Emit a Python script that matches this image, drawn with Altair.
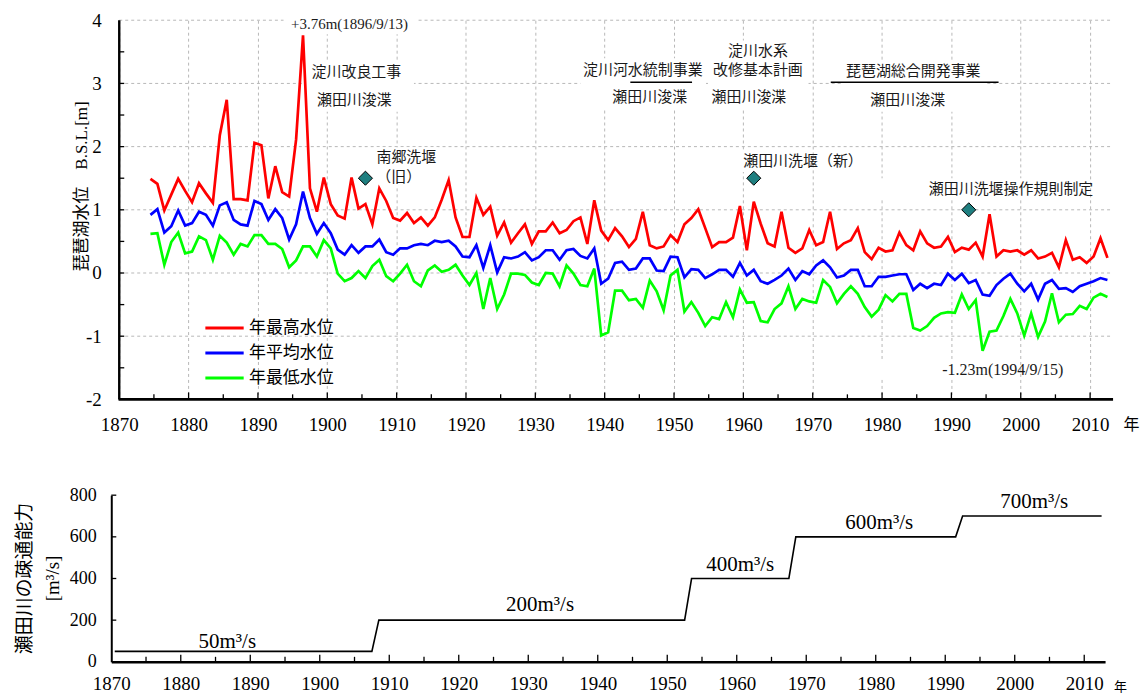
import altair as alt
import pandas as pd

# ---------------- data ----------------
years = list(range(1874, 2013))

max_level = [
    1.49, 1.41, 0.99, 1.24, 1.49, 1.30,
    1.12, 1.42, 1.26, 1.11, 2.18, 2.74, 1.17, 1.17, 1.15, 2.06,
    2.02, 1.18, 1.69, 1.28, 1.21, 2.11, 3.76, 1.34, 0.97, 1.51,
    1.09, 0.91, 0.86, 1.51, 1.02, 1.09, 0.77, 1.34, 1.14, 0.87,
    0.83, 0.95, 0.79, 0.88, 0.75, 0.88, 1.16, 1.47, 0.88, 0.57,
    0.57, 1.19, 0.92, 1.05, 0.59, 0.80, 0.48, 0.63, 0.77, 0.46,
    0.66, 0.66, 0.80, 0.63, 0.68, 0.82, 0.88, 0.46, 1.15, 0.67,
    0.52, 0.71, 0.58, 0.41, 0.54, 0.97, 0.44, 0.39, 0.42, 0.60,
    0.49, 0.77, 0.87, 1.01, 0.71, 0.41, 0.49, 0.49, 0.56, 1.06,
    0.36, 1.13, 0.78, 0.47, 0.42, 0.97, 0.40, 0.32, 0.39, 0.68,
    0.44, 0.49, 0.97, 0.38, 0.47, 0.52, 0.71, 0.33, 0.22, 0.40,
    0.34, 0.36, 0.64, 0.44, 0.36, 0.66, 0.47, 0.40, 0.42, 0.57,
    0.33, 0.40, 0.37, 0.48, 0.26, 0.93, 0.26, 0.36, 0.34, 0.36,
    0.29, 0.36, 0.23, 0.26, 0.32, 0.09, 0.52, 0.21, 0.25, 0.16,
    0.26, 0.55, 0.24,
]

mean_level = [
    0.92, 1.01, 0.64, 0.74, 0.99, 0.75,
    0.79, 0.97, 0.92, 0.75, 1.07, 1.12, 0.84, 0.77, 0.75, 1.14,
    1.09, 0.84, 1.01, 0.87, 0.53, 0.77, 1.29, 0.87, 0.62, 0.79,
    0.63, 0.37, 0.29, 0.44, 0.32, 0.42, 0.42, 0.53, 0.33, 0.29,
    0.39, 0.39, 0.44, 0.46, 0.44, 0.51, 0.49, 0.51, 0.42, 0.26,
    0.25, 0.44, 0.08, 0.44, 0.01, 0.25, 0.23, 0.26, 0.33, 0.20,
    0.25, 0.36, 0.36, 0.21, 0.36, 0.38, 0.27, 0.23, 0.39, -0.17,
    -0.09, 0.16, 0.18, 0.05, 0.07, 0.23, 0.23, 0.04, 0.03, 0.26,
    0.25, -0.07, 0.06, 0.05, -0.08, -0.02, 0.05, 0.05, -0.06, 0.16,
    -0.04, 0.05, -0.13, -0.17, -0.11, -0.04, 0.07, -0.11, 0.03, -0.02,
    0.12, 0.20, 0.09, -0.07, -0.04, 0.05, 0.05, -0.21, -0.21, -0.06,
    -0.06, -0.04, -0.02, -0.02, -0.27, -0.17, -0.24, -0.17, -0.19, -0.01,
    -0.11, -0.01, -0.16, -0.11, -0.34, -0.36, -0.19, -0.09, -0.01, -0.17,
    -0.29, -0.17, -0.42, -0.17, -0.11, -0.25, -0.24, -0.30, -0.21, -0.17,
    -0.13, -0.08, -0.11,
]

min_level = [
    0.62, 0.63, 0.13, 0.49, 0.64, 0.31,
    0.34, 0.58, 0.52, 0.21, 0.59, 0.48, 0.29, 0.46, 0.42, 0.60,
    0.60, 0.46, 0.46, 0.38, 0.09, 0.20, 0.42, 0.42, 0.26, 0.52,
    0.39, -0.01, -0.13, -0.08, 0.03, -0.08, 0.11, 0.21, -0.05, -0.13,
    -0.01, 0.13, -0.13, -0.21, 0.04, 0.12, 0.02, 0.05, 0.13, -0.04,
    -0.19, 0.00, -0.57, -0.08, -0.57, -0.34, -0.01, -0.01, -0.03, -0.15,
    -0.19, 0.00, -0.01, -0.21, 0.12, -0.01, -0.19, -0.21, 0.07, -0.99,
    -0.94, -0.28, -0.28, -0.43, -0.41, -0.55, -0.12, -0.29, -0.59, -0.04,
    0.05, -0.61, -0.46, -0.63, -0.84, -0.70, -0.73, -0.46, -0.70, -0.26,
    -0.47, -0.46, -0.76, -0.78, -0.57, -0.48, -0.21, -0.57, -0.41, -0.45,
    -0.47, -0.11, -0.22, -0.48, -0.33, -0.21, -0.33, -0.54, -0.69, -0.58,
    -0.35, -0.45, -0.33, -0.33, -0.87, -0.91, -0.84, -0.71, -0.64, -0.62,
    -0.63, -0.34, -0.57, -0.43, -1.23, -0.93, -0.91, -0.68, -0.41, -0.64,
    -0.99, -0.64, -1.01, -0.77, -0.32, -0.78, -0.66, -0.65, -0.52, -0.57,
    -0.39, -0.33, -0.38,
]

series_names = ["年最高水位", "年平均水位", "年最低水位"]
series_colors = ["#ff0000", "#0000ff", "#00ff00"]

event_years = [1905, 1961, 1992]
event_levels = [1.5, 1.5, 1.0]

ann_text = ["+3.76m(1896/9/13)", "淀川改良工事", "瀬田川浚渫", "南郷洗堰", "（旧）",
            "淀川河水統制事業", "瀬田川浚渫", "淀川水系", "改修基本計画", "瀬田川浚渫",
            "琵琶湖総合開発事業", "瀬田川浚渫", "瀬田川洗堰（新）", "瀬田川洗堰操作規則制定",
            "-1.23m(1994/9/15)"]
ann_x = [1903.2, 1904.2, 1903.9, 1911.4, 1910.3,
         1945.5, 1946.5, 1962.1, 1962.1, 1960.8,
         1984.5, 1983.7, 1968.6, 1998.6, 1997.4]
ann_y = [3.94, 3.18, 2.74, 1.84, 1.52,
         3.21, 2.78, 3.51, 3.21, 2.78,
         3.19, 2.74, 1.77, 1.33, -1.54]
ann_size = [15, 15, 15, 15, 15, 15, 15, 15, 15, 15, 15, 15, 15, 15, 16]

# white backgrounds behind the annotation blocks (year / level extents)
box_x0 = [1896.7, 1936.5, 1954.9, 1974.3, 1906.7, 1950.4, 1976.3, 1978.0, 1893.7]
box_x1 = [1912.5, 1954.6, 1969.4, 1994.9, 1916.0, 1967.1, 2000.9, 1997.0, 1912.9]
box_y0 = [2.55, 2.58, 2.58, 2.55, 1.35, 1.60, 1.16, -1.68, 3.78]
box_y1 = [3.37, 3.40, 3.68, 3.37, 1.99, 1.95, 1.50, -1.40, 4.10]

bar_x0 = [1943.7, 1972.6]
bar_x1 = [1952.6, 1996.8]
bar_y = [3.02, 3.02]

cap_years = [1870, 1907, 1908, 1952, 1953, 1967, 1968, 1991, 1992, 2012]
cap_values = [50, 50, 200, 200, 400, 400, 600, 600, 700, 700]
cap_text = ["50m³/s", "200m³/s", "400m³/s", "600m³/s", "700m³/s"]
cap_text_x = [1886.7, 1931.7, 1960.5, 1980.5, 2002.8]
cap_text_y = [97, 273, 465, 666, 768]

decades = list(range(1870, 2011, 10))
five_years = list(range(1875, 2011, 5))
top_levels = [-2, -1, 0, 1, 2, 3, 4]
half_levels = [-1.5, -1, -0.5, 0, 0.5, 1, 1.5, 2, 2.5, 3, 3.5]
cap_levels = [0, 200, 400, 600, 800]

# ---------------- style / layout ----------------
SERIF = "Liberation Serif, Noto Sans CJK JP"
JP = "Noto Sans CJK JP"
GRID = "#b8b8b8"

TOP_X0, TOP_X1, TOP_W, TOP_H = 1868.85, 2013.31, 1004, 380
BOT_X0, BOT_X1, BOT_W, BOT_H = 1870, 2013, 996, 167

xs_top = alt.Scale(domain=[TOP_X0, TOP_X1], nice=False, zero=False)
ys_top = alt.Scale(domain=[-2, 4], nice=False, zero=False)
xs_bot = alt.Scale(domain=[BOT_X0, BOT_X1], nice=False, zero=False)
ys_bot = alt.Scale(domain=[0, 800], nice=False, zero=False)

ax_top_x = alt.Axis(values=decades, format="d", domain=False, ticks=False, grid=True,
                    gridDash=[3, 3], gridColor=GRID, gridWidth=1, labelFlush=False,
                    labelFont=SERIF, labelFontSize=19, labelPadding=16, labelColor="black",
                    title="年", titleFont=JP, titleFontSize=16, titleFontWeight="normal",
                    titleX=1022, titleY=25, titleAlign="center", titleBaseline="middle",
                    titleColor="black")
ax_top_y = alt.Axis(values=top_levels, domain=False, ticks=False, grid=False,
                    labelExpr="replace(datum.label, '−', '-')",
                    labelFont=SERIF, labelFontSize=19, labelPadding=10, labelColor="black",
                    title="琵琶湖水位　B.S.L.[m]", titleFont=SERIF, titleFontSize=17,
                    titleFontWeight="normal", titleColor="black",
                    titleX=-30, titleY=166, titleAngle=-90, titleAlign="center",
                    titleBaseline="middle")
ax_bot_x = alt.Axis(values=decades, format="d", domain=True, domainColor="black", domainWidth=2.5,
                    ticks=False, grid=False, labelFlush=False,
                    labelFont=SERIF, labelFontSize=19, labelPadding=13, labelColor="black",
                    title="年", titleFont=JP, titleFontSize=13, titleFontWeight="normal",
                    titleX=1011, titleY=25, titleAlign="center", titleBaseline="middle",
                    titleColor="black")
ax_bot_y = alt.Axis(values=cap_levels, domain=True, domainColor="black", domainWidth=2,
                    ticks=False, grid=False,
                    labelFont=SERIF, labelFontSize=18, labelPadding=15, labelColor="black",
                    title=["瀬田川の疎通能力", "[m³/s]"], titleFont=SERIF, titleFontSize=19,
                    titleFontWeight="normal", titleColor="black", titleLineHeight=28,
                    titleX=-87, titleY=83, titleAngle=-90, titleAlign="center",
                    titleBaseline="middle")


def XT(f):
    return alt.X(f, type="quantitative", scale=xs_top, axis=ax_top_x)


def YT(f):
    return alt.Y(f, type="quantitative", scale=ys_top, axis=ax_top_y)


def XB(f):
    return alt.X(f, type="quantitative", scale=xs_bot, axis=ax_bot_x)


def YB(f):
    return alt.Y(f, type="quantitative", scale=ys_bot, axis=ax_bot_y)


# ---------------- top panel ----------------
df_lines = pd.DataFrame({
    "year": years * 3,
    "level": max_level + mean_level + min_level,
    "series": [series_names[0]] * len(years) + [series_names[1]] * len(years)
              + [series_names[2]] * len(years),
})

hgrid = alt.Chart(pd.DataFrame({"v": top_levels[1:], "a": 1870, "b": TOP_X1})).mark_rule(
    color=GRID, strokeDash=[3, 3], strokeWidth=1
).encode(x=XT("a"), x2="b:Q", y=YT("v"))

boxes = alt.Chart(pd.DataFrame({"a": box_x0, "b": box_x1, "c": box_y0, "d": box_y1})).mark_rect(
    color="white", opacity=1
).encode(x=XT("a"), x2="b:Q", y=YT("c"), y2="d:Q")

yticks_top = alt.Chart(pd.DataFrame({"v": half_levels, "a": 1870, "b": 1870.72})).mark_rule(
    color="black", strokeWidth=1.3
).encode(x=XT("a"), x2="b:Q", y=YT("v"))

df_xt = pd.DataFrame({"yr": five_years})
df_xt["len"] = [0.11 if y % 10 == 0 else 0.08 for y in five_years]
xticks_top = alt.Chart(df_xt).transform_calculate(lo="-2", hi="-2 + datum.len").mark_rule(
    color="black", strokeWidth=1.3
).encode(x=XT("yr"), y=YT("lo"), y2="hi:Q")

yaxis_line = alt.Chart(pd.DataFrame({"a": [1870], "lo": [-2], "hi": [4]})).mark_rule(
    color="black", strokeWidth=2.4
).encode(x=XT("a"), y=YT("lo"), y2="hi:Q")

xaxis_line = alt.Chart(pd.DataFrame({"a": [1869.9], "b": [TOP_X1], "v": [-2]})).mark_rule(
    color="black", strokeWidth=2.6
).encode(x=XT("a"), x2="b:Q", y=YT("v"))

lines = alt.Chart(df_lines).transform_calculate(xp="datum.year + 0.5").mark_line(
    strokeWidth=2.7
).encode(
    x=XT("xp"),
    y=YT("level"),
    color=alt.Color("series:N",
                    scale=alt.Scale(domain=series_names, range=series_colors),
                    legend=alt.Legend(orient="none", legendX=105, legendY=300, title=None,
                                      direction="vertical", padding=0,
                                      symbolType="M-6.4,0H6.4", symbolSize=36,
                                      symbolStrokeWidth=3, labelFont=JP, labelFontSize=17,
                                      labelOffset=16, rowPadding=7, labelColor="black")),
    detail="series:N",
)

diamonds = alt.Chart(pd.DataFrame({"year": event_years, "lv": event_levels})).transform_calculate(
    xp="datum.year + 0.5"
).mark_point(shape="diamond", size=200, filled=True, fill="#1f7f80", stroke="black",
             strokeWidth=1, opacity=1).encode(x=XT("xp"), y=YT("lv"))

bars = alt.Chart(pd.DataFrame({"a": bar_x0, "b": bar_x1, "v": bar_y})).mark_rule(
    color="black", strokeWidth=1.5
).encode(x=XT("a"), x2="b:Q", y=YT("v"))

ann = alt.Chart(pd.DataFrame({"t": ann_text, "x": ann_x, "y": ann_y, "s": ann_size})).mark_text(
    font=SERIF, color="#1a1a1a", align="center", baseline="middle"
).encode(x=XT("x"), y=YT("y"), text="t:N", size=alt.Size("s:Q", scale=None, legend=None))

top = alt.layer(hgrid, boxes, yticks_top, xticks_top, lines, diamonds, bars, ann,
                yaxis_line, xaxis_line).properties(width=TOP_W, height=TOP_H)

# ---------------- bottom panel ----------------
df_cap = pd.DataFrame({"year": cap_years, "cap": cap_values})
step = alt.Chart(df_cap).transform_calculate(xp="datum.year + 0.5").mark_line(
    color="black", strokeWidth=1.6
).encode(x=XB("xp"), y=YB("cap"), order="xp:Q")

df_bt = pd.DataFrame({"yr": five_years})
df_bt["len"] = [34 if y % 10 == 0 else 24 for y in five_years]
xticks_bot = alt.Chart(df_bt).transform_calculate(lo="0").mark_rule(
    color="black", strokeWidth=1.3
).encode(x=XB("yr"), y=YB("lo"), y2="len:Q")

yticks_bot = alt.Chart(pd.DataFrame({"v": cap_levels[1:], "a": 1870, "b": 1870.72})).mark_rule(
    color="black", strokeWidth=1.3
).encode(x=XB("a"), x2="b:Q", y=YB("v"))

cap_lbl = alt.Chart(pd.DataFrame({"t": cap_text, "x": cap_text_x, "y": cap_text_y})).mark_text(
    font=SERIF, fontSize=21, color="black", align="center", baseline="middle"
).encode(x=XB("x"), y=YB("y"), text="t:N")

bottom = alt.layer(step, xticks_bot, yticks_bot, cap_lbl).properties(width=BOT_W, height=BOT_H)

chart = alt.vconcat(top, bottom, spacing=52).properties(
    padding={"left": 6.5, "top": 2.5, "right": 0, "bottom": 0},
    background="white",
).configure_view(stroke=None)

chart.save("out.html", embed_options={"renderer": "svg", "actions": False})
